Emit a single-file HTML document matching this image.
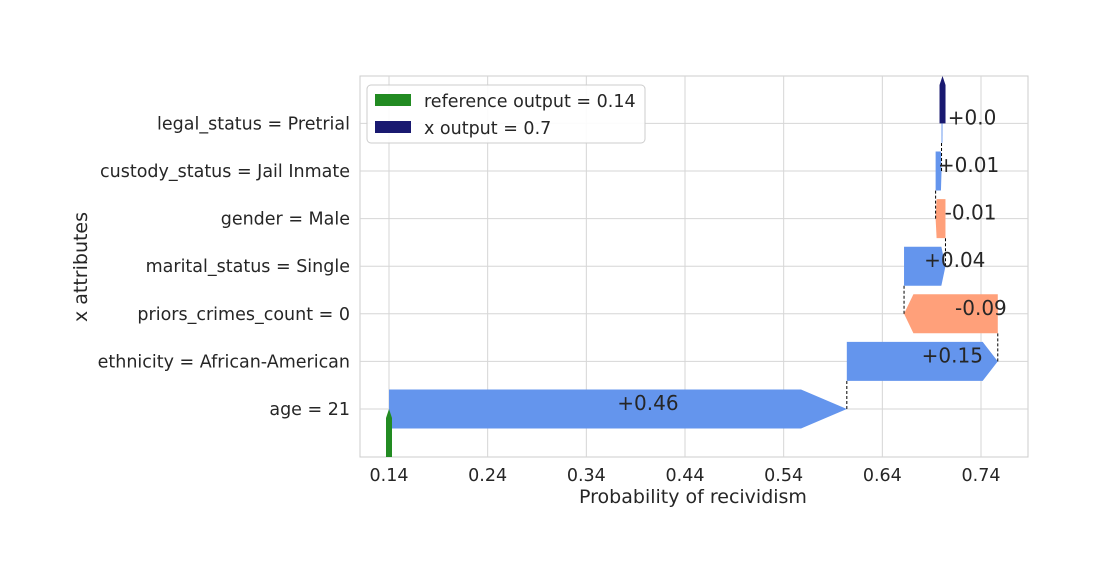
<!DOCTYPE html>
<html><head><meta charset="utf-8"><style>
body{margin:0;background:#fff;font-family:"Liberation Sans","DejaVu Sans",sans-serif}
</style></head><body>
<svg id="c" width="1105" height="578" xmlns="http://www.w3.org/2000/svg" font-family="DejaVu Sans, Liberation Sans, sans-serif">
<rect x="360" y="76" width="668" height="381" fill="#fff" stroke="#ccc"/>
<g id="grid"></g><g id="bars"></g><g id="labels"></g>
</svg>
<script>
const categories=["age = 21","ethnicity = African-American","priors_crimes_count = 0","marital_status = Single","gender = Male","custody_status = Jail Inmate","legal_status = Pretrial"];
const contributions=[0.464,0.153,-0.095,0.042,-0.010,0.006,0.001];
const valueLabels=["+0.46","+0.15","-0.09","+0.04","-0.01","+0.01","+0.0"];
const referenceOutput=0.14;
const xOutput=0.7;
const xTicks=[0.14,0.24,0.34,0.44,0.54,0.64,0.74];
const NS="http://www.w3.org/2000/svg";
const svg=document.getElementById('c');
const X=v=>389+(v-0.14)*986.67;
const rowY=i=>409-i*47.6;
const H=39;
function mk(t,a,p){const e=document.createElementNS(NS,t);for(const k in a)e.setAttribute(k,a[k]);(p||svg).appendChild(e);return e;}
const grid=document.getElementById('grid'),bars=document.getElementById('bars'),labels=document.getElementById('labels');
xTicks.forEach(t=>{
 const l=mk('line',{x1:X(t),x2:X(t),y1:76,y2:457,stroke:'#d6d6d6'},grid);
 
 
 const tx=mk('text',{x:X(t),y:481,'text-anchor':'middle','font-size':17.5,fill:'#262626'},labels);
 tx.textContent=t.toFixed(2);
 
 
});
categories.forEach((c,i)=>{
 const y=rowY(i);
 const l=mk('line',{x1:360,x2:1028,y1:y,y2:y,stroke:'#d6d6d6'},grid);
 
 
 const tx=mk('text',{x:350,y:y+6,'text-anchor':'end','font-size':17.5,fill:'#262626'},labels);
 tx.textContent=c;
 
 
});
let cur=referenceOutput;
contributions.forEach((v,i)=>{
 const y=rowY(i),x0=X(cur),x1=X(cur+v),len=x1-x0,hl=len*0.1;
 const t=y-H/2,b=y+H/2;
 const pts=`${x0},${t} ${x1-hl},${t} ${x1},${y} ${x1-hl},${b} ${x0},${b}`;
 const p=mk('polygon',{points:pts,fill:v>=0?'#6495ED':'#FFA07A'},bars);
 
 
 if(i<contributions.length-1){
  const d=mk('line',{x1:x1,x2:x1,y1:y,y2:rowY(i+1)+H/2,stroke:'#000','stroke-dasharray':'3,2','stroke-width':1},bars);
  
  
 }
 const tx=mk('text',{x:(x0+x1)/2+30,y:y+1,'text-anchor':'middle','font-size':20,fill:'#262626'},labels);
 tx.textContent=valueLabels[i];
 
 
 cur+=v;
});
const gx=X(referenceOutput);
const g=mk('polygon',{points:`${gx-3},457 ${gx-3},418 ${gx},409 ${gx+3},418 ${gx+3},457`,fill:'#228B22'},bars);


const ox=X(cur);
const o=mk('polygon',{points:`${ox-3},${rowY(6)} ${ox-3},85 ${ox},76 ${ox+3},85 ${ox+3},${rowY(6)}`,fill:'#191970'},bars);


const lg=mk('g',{},labels);


mk('rect',{x:367,y:85,width:278,height:58,rx:4,fill:'#fff',stroke:'#ccc','fill-opacity':0.9},lg);
mk('rect',{x:375,y:94,width:36,height:12,fill:'#228B22'},lg);
mk('rect',{x:375,y:121,width:36,height:12,fill:'#191970'},lg);
const l1=mk('text',{x:424,y:107,'font-size':17.5,fill:'#262626'},lg);l1.textContent='reference output = 0.14';


const l2=mk('text',{x:424,y:134,'font-size':17.5,fill:'#262626'},lg);l2.textContent='x output = 0.7';


const xt=mk('text',{x:693,y:503,'text-anchor':'middle','font-size':19,fill:'#262626'},labels);
xt.textContent='Probability of recividism';


const yt=mk('text',{x:87,y:267,'text-anchor':'middle','font-size':19,fill:'#262626',transform:'rotate(-90 87 267)'},labels);
yt.textContent='x attributes';


</script>
</body></html>
